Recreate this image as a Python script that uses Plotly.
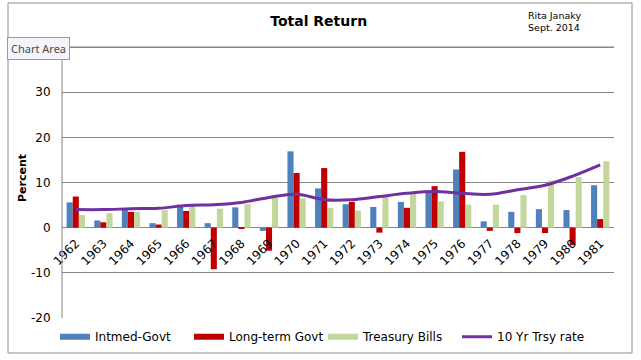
import plotly.graph_objects as go

years = [str(y) for y in range(1962, 1982)]
intmed_govt = [5.6, 1.6, 4.0, 1.0, 4.7, 1.0, 4.5, -0.7, 16.9, 8.7, 5.2, 4.6, 5.7, 7.8, 12.9, 1.4, 3.5, 4.1, 3.9, 9.4]
longterm_govt = [6.9, 1.2, 3.5, 0.7, 3.7, -9.2, -0.3, -5.1, 12.1, 13.2, 5.7, -1.1, 4.4, 9.2, 16.8, -0.7, -1.2, -1.2, -3.9, 1.9]
treasury_bills = [2.8, 3.2, 3.5, 3.9, 4.8, 4.2, 5.2, 6.6, 6.5, 4.4, 3.8, 6.9, 7.8, 5.8, 5.1, 5.1, 7.2, 10.4, 11.2, 14.7]
trsy_10yr_rate = [4.0, 4.0, 4.2, 4.3, 4.9, 5.1, 5.6, 6.7, 7.4, 6.2, 6.2, 6.9, 7.6, 8.0, 7.6, 7.4, 8.4, 9.4, 11.4, 13.9]

y_tick_vals = [-20, -10, 0, 10, 20, 30, 40]
y_tick_text = ["-20", "-10", "0", "10", "20", "30", ""]
y_top_grid = 40

y_min, y_max = -20, 42
series_names = ["Intmed-Govt", "Long-term Govt", "Treasury Bills", "10 Yr Trsy rate"]
colors = ["#4F81BD", "#C00000", "#C3D69B", "#7030A0"]
FONT = "DejaVu Sans"
GRID = "#868686"

W, H = 641, 360
ML, MR, MT, MB = 62, 27, 38, 42
PW, PH = W - ML - MR, H - MT - MB
BOTTOM = H - MB


def px_x(p):
    return (p - ML) / PW


def px_y(p):
    return (BOTTOM - p) / PH


fig = go.Figure()
for name, vals, col in zip(series_names[:3], [intmed_govt, longterm_govt, treasury_bills], colors[:3]):
    fig.add_trace(go.Bar(x=years, y=vals, name=name, marker=dict(color=col, line=dict(width=0)),
                         showlegend=False))
# legend swatches for the bar series
for name, col in zip(series_names[:3], colors[:3]):
    fig.add_trace(go.Scatter(x=[None], y=[None], mode="lines", name=name,
                             line=dict(color=col, width=6)))
fig.add_trace(go.Scatter(x=years, y=trsy_10yr_rate, name=series_names[3], mode="lines",
                         line=dict(color=colors[3], width=3, shape="spline")))

fig.update_layout(
    width=W, height=H,
    margin=dict(l=ML, r=MR, t=MT, b=MB, autoexpand=False),
    paper_bgcolor="white", plot_bgcolor="rgba(0,0,0,0)",
    barmode="group", bargap=0.337, bargroupgap=0,
    font=dict(family=FONT, size=12, color="black"),
    title=dict(text="<b>Total Return</b>", x=318.7 / W, xanchor="center",
               y=1 - 21 / H, yanchor="middle", font=dict(size=14, family=FONT)),
    showlegend=True,
    legend=dict(orientation="h", x=px_x(55), xanchor="left", y=px_y(336.7), yanchor="middle",
                font=dict(size=12, family=FONT), itemwidth=30, bgcolor="rgba(0,0,0,0)",
                traceorder="normal", entrywidth=89, entrywidthmode="pixels"),
    xaxis=dict(type="category", anchor="free", position=(0 - y_min) / (y_max - y_min),
               showline=False, showgrid=False, tickangle=-45, ticks="outside", ticklen=3,
               tickcolor="rgba(0,0,0,0)", tickfont=dict(size=12, family=FONT)),
    yaxis=dict(range=[y_min, y_max], showgrid=True, gridcolor=GRID, gridwidth=1,
               zeroline=True, zerolinecolor=GRID, zerolinewidth=1,
               showline=False,
               ticks="outside", ticklen=8, tickcolor="rgba(0,0,0,0)",
               tickvals=y_tick_vals, ticktext=y_tick_text, tickfont=dict(size=12, family=FONT),
               title=dict(text="<b>Percent</b>", font=dict(size=11, family=FONT), standoff=2)),
)

# top (unlabelled) gridline at 40, in case the axis drops it
fig.add_shape(type="line", xref="x domain", yref="y", x0=0, x1=1, y0=y_top_grid, y1=y_top_grid,
              line=dict(color=GRID, width=1), layer="above")
# vertical value axis line from -20 to 40
fig.add_shape(type="line", xref="x domain", yref="y", x0=0, x1=0, y0=y_min, y1=y_top_grid,
              line=dict(color=GRID, width=1), layer="above")

# outer chart-area border
fig.add_shape(type="rect", xref="paper", yref="paper",
              x0=px_x(8), x1=px_x(632), y0=px_y(353), y1=px_y(3),
              line=dict(color="#8C8C8C", width=1), fillcolor="rgba(0,0,0,0)", layer="below")

fig.add_annotation(text="Rita Janaky<br>Sept. 2014", xref="paper", yref="paper",
                   x=px_x(526), xanchor="left", y=px_y(22), yanchor="middle",
                   showarrow=False, align="left", font=dict(size=9.5, family=FONT, color="black"))

fig.add_annotation(text="Chart Area", xref="paper", yref="paper",
                   x=px_x(7), xanchor="left", y=px_y(48.5), yanchor="middle",
                   showarrow=False, font=dict(size=11, family="Noto Sans", color="#4A4A4A"),
                   bgcolor="#F3F5FA", bordercolor="#9A9A9A", borderwidth=1, borderpad=3)

fig.write_html("out.html", config={"displayModeBar": False},
               post_script="document.body.style.margin='0';")
